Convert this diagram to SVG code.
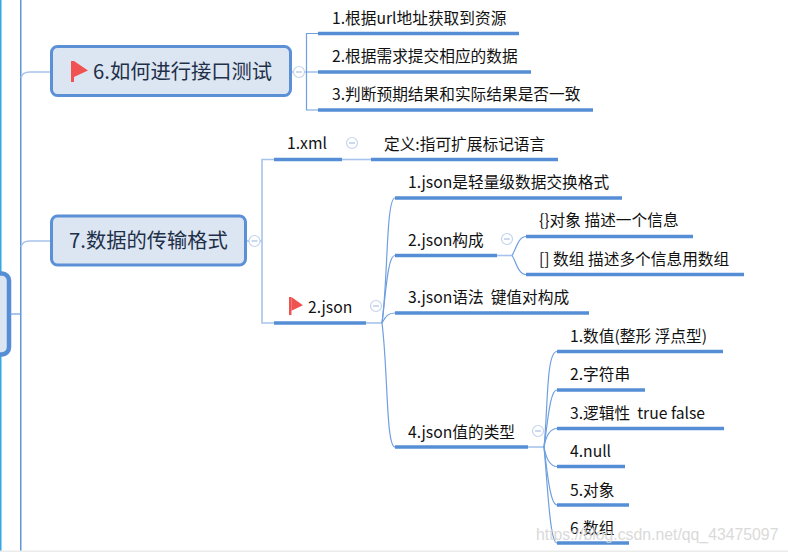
<svg xmlns="http://www.w3.org/2000/svg" width="788" height="552" viewBox="0 0 788 552">
<style>
text{font-family:"Noto Sans CJK SC","Liberation Sans",sans-serif;fill:#111;white-space:pre}
.t{font-size:15.7px}
.m{font-size:20.3px;fill:#1f3049}
.box{fill:#dce6f3;stroke:#5b90d6;stroke-width:3}
.bar{stroke:#558ed5;stroke-width:3.5;fill:none}
.c{stroke:#6f9fdf;stroke-width:1.2;fill:none}
.cl{stroke:#a6c3ec;stroke-width:1.6;fill:none}
.cc{fill:#fff;stroke:#c3d4ee;stroke-width:1.2}
.cp{stroke:#a9bfe2;stroke-width:1.2;fill:none}
.flag{fill:#f05252}
</style>
<defs>
<g id="flag"><rect x="0" y="0" width="3" height="21" class="flag"/><path d="M3 0L17 9.500L3 16Z" class="flag"/></g>
<g id="collapse"><circle r="5.500" class="cc"/><path d="M-3 0H3" class="cp"/></g>
</defs>
<rect width="788" height="552" fill="#fff"/>
<g id="frame">
<rect x="0" y="0" width="1.500" height="552" fill="#34a7e4"/>
<rect x="20" y="0" width="1.500" height="552" fill="#5f96dc"/>
<rect x="-12" y="273.500" width="21" height="81" rx="7" fill="#dce6f3" stroke="#558ed5" stroke-width="4.500"/>
</g>
<g id="connectors">
<path class="c" d="M10 314H21"/>
<path class="cl" d="M21 78Q22 72 30 72H51"/>
<path class="cl" d="M21 247Q22 241 30 241H51"/>
<path class="cl" d="M291 72H306"/>
<path class="c" d="M318 33.500H306.500V110H318M306 72H318"/>
<path class="cl" d="M247 241H262"/>
<path class="cl" d="M274 159.500H262V323H274"/>
<path class="cl" d="M342 159.500H371"/>
<path class="cl" d="M366 323H382"/>
<path class="c" d="M382 323C388 280 386 198 395 198"/>
<path class="c" d="M382 323C386 290 388 255 395 255.500"/>
<path class="c" d="M382 323C386 316 388 313 395 313"/>
<path class="c" d="M382 323C388 370 386 447 395 447"/>
<path class="cl" d="M497 255.500H512"/>
<path class="c" d="M512 255.500C516 250 518 236.500 526 236.500"/>
<path class="c" d="M512 255.500C516 261 518 274.500 526 274.500"/>
<path class="cl" d="M528 447H544"/>
<path class="c" d="M544 447C548 410 546 351.500 557 351.500"/>
<path class="c" d="M544 447C548 420 550 390 557 390"/>
<path class="c" d="M544 447C546 436 550 428.500 557 428.500"/>
<path class="c" d="M544 447C546 458 550 466.500 557 466.500"/>
<path class="c" d="M544 447C547 470 550 505 557 505"/>
<path class="c" d="M544 447C548 490 550 543 557 543"/>
</g>
<g id="node-6">
<rect class="box" x="51.500" y="46.500" width="239" height="49" rx="6"/>
<use href="#flag" x="71" y="61"/>
<text class="m" x="93" y="79">6.如何进行接口测试</text>
<use href="#collapse" x="299" y="72"/>
</g>
<g id="node-6-1"><text class="t" x="332" y="24">1.根据url地址获取到资源</text><path class="bar" d="M318 33.500H519"/></g>
<g id="node-6-2"><text class="t" x="332" y="62">2.根据需求提交相应的数据</text><path class="bar" d="M318 72H531"/></g>
<g id="node-6-3"><text class="t" x="332" y="100">3.判断预期结果和实际结果是否一致</text><path class="bar" d="M318 110H593"/></g>
<g id="node-7">
<rect class="box" x="51.500" y="216" width="194" height="49" rx="6"/>
<text class="m" x="69" y="248">7.数据的传输格式</text>
<use href="#collapse" x="254.500" y="241"/>
</g>
<g id="node-xml"><text class="t" x="287" y="149">1.xml</text><path class="bar" d="M274 159.500H342"/><use href="#collapse" x="352" y="143"/></g>
<g id="node-xml-def"><text class="t" x="384" y="150">定义:指可扩展标记语言</text><path class="bar" d="M371 159.500H558"/></g>
<g id="node-json"><use href="#flag" transform="translate(289 297) scale(.82 .86)"/><text class="t" x="308" y="313">2.json</text><path class="bar" d="M274 323H366"/><use href="#collapse" x="376" y="306"/></g>
<g id="node-j1"><text class="t" x="408" y="188">1.json是轻量级数据交换格式</text><path class="bar" d="M395 198H622"/></g>
<g id="node-j2"><text class="t" x="408" y="246">2.json构成</text><path class="bar" d="M395 255.500H497"/><use href="#collapse" x="507" y="239"/></g>
<g id="node-j2a"><text class="t" x="539" y="226">{}对象 描述一个信息</text><path class="bar" d="M526 236.500H693"/></g>
<g id="node-j2b"><text class="t" x="539" y="265">[] 数组 描述多个信息用数组</text><path class="bar" d="M526 274.500H744"/></g>
<g id="node-j3"><text class="t" x="408" y="303">3.json语法  键值对构成</text><path class="bar" d="M395 313H589"/></g>
<g id="node-j4"><text class="t" x="408" y="438">4.json值的类型</text><path class="bar" d="M395 447H528"/><use href="#collapse" x="538" y="431"/></g>
<g id="node-v1"><text class="t" x="570" y="342">1.数值(整形 浮点型)</text><path class="bar" d="M557 351.500H723"/></g>
<g id="node-v2"><text class="t" x="570" y="380">2.字符串</text><path class="bar" d="M557 390H645"/></g>
<g id="node-v3"><text class="t" x="570" y="419">3.逻辑性  true false</text><path class="bar" d="M557 428.500H724"/></g>
<g id="node-v4"><text class="t" x="570" y="457">4.null</text><path class="bar" d="M557 466.500H625"/></g>
<g id="node-v5"><text class="t" x="570" y="496">5.对象</text><path class="bar" d="M557 505H629"/></g>
<g id="node-v6"><text class="t" x="570" y="534">6.数组</text><path class="bar" d="M557 543H629"/></g>
<text x="536" y="540" font-size="15.8" style="font-family:'Liberation Sans',sans-serif;fill:#d4d4d4;opacity:.85">https://blog.csdn.net/qq_43475097</text>
<rect x="0" y="550.500" width="788" height="1.500" fill="#ececec"/>
</svg>
